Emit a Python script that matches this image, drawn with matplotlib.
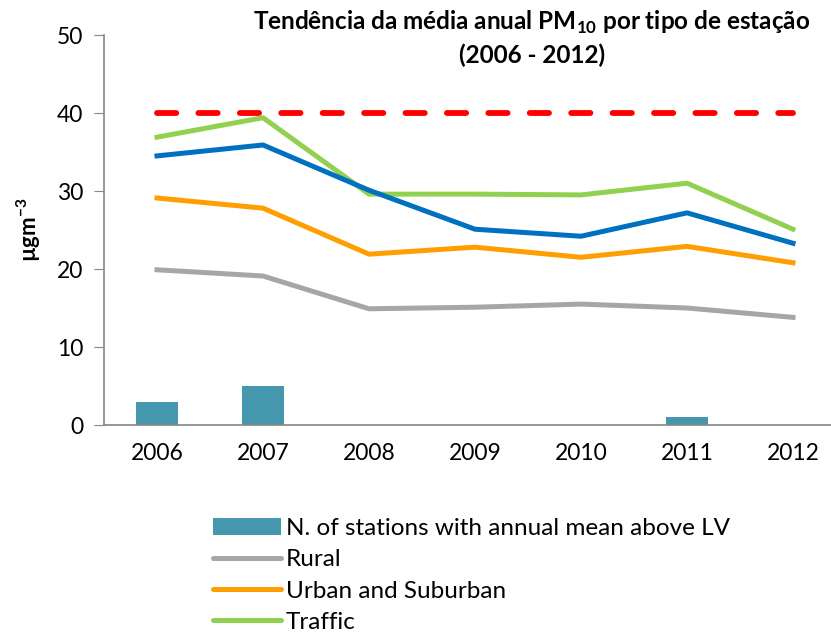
import matplotlib
matplotlib.use("Agg")
import matplotlib.pyplot as plt
from matplotlib.patches import Patch
from matplotlib.lines import Line2D
import numpy as np

plt.rcParams['font.family'] = ['Lato', 'DejaVu Sans']
plt.rcParams['mathtext.fontset'] = 'custom'
plt.rcParams['mathtext.bf'] = 'Lato:bold'
plt.rcParams['mathtext.rm'] = 'Lato'

years = ["2006", "2007", "2008", "2009", "2010", "2011", "2012"]
stations_above_lv = [3, 5, 0, 0, 0, 1, 0]
rural = [19.9, 19.1, 14.9, 15.1, 15.5, 15.0, 13.8]
urban_suburban = [29.1, 27.8, 21.9, 22.8, 21.5, 22.9, 20.8]
all_stations = [34.5, 35.9, 30.1, 25.1, 24.2, 27.2, 23.3]
traffic = [36.9, 39.4, 29.6, 29.6, 29.5, 31.0, 25.1]
limit_value = [40] * 7

fig = plt.figure(figsize=(8.31, 6.37), dpi=100, facecolor="white")
ax = fig.add_axes([104/831, 212/637, 742/831, 390/637])
ax.set_facecolor("none")
x = np.arange(len(years))

ax.bar(x, stations_above_lv, width=0.4, color="#4597AE", zorder=2)
ax.plot(x, limit_value, color="#FF0000", lw=4.2, ls=(0, (3.3, 3.8)), dash_capstyle="round", zorder=3)
ax.plot(x, rural, color="#A6A6A6", lw=3.6, solid_joinstyle="round", zorder=3)
ax.plot(x, urban_suburban, color="#FF9E00", lw=3.6, solid_joinstyle="round", zorder=3)
ax.plot(x, traffic, color="#92D050", lw=3.6, solid_joinstyle="round", zorder=3)
ax.plot(x, all_stations, color="#0070C0", lw=3.6, solid_joinstyle="round", zorder=4)

ax.set_xlim(-0.5, 6.5)
ax.set_ylim(0, 50)
ax.set_yticks(range(0, 51, 10))
ax.set_xticks(x)
ax.set_xticklabels(years)
for s in ["top", "right"]:
    ax.spines[s].set_visible(False)
for s in ["left", "bottom"]:
    ax.spines[s].set_color("#868686")
    ax.spines[s].set_linewidth(1.2)
ax.tick_params(axis="y", length=7, color="#868686", labelsize=16.5, pad=8)
ax.tick_params(axis="x", length=0, labelsize=16.5, pad=13)

ax.set_ylabel("µgm$^{\\mathbf{-3}}$", fontsize=16, fontweight="bold", labelpad=10)

fig.text(532/831, 1 - 22/637, "Tendência da média anual PM$_{\\mathbf{10}}$ por tipo de estação",
         ha="center", va="center", fontsize=17.5, fontweight="bold")
fig.text(532/831, 1 - 55/637, "(2006 - 2012)", ha="center", va="center", fontsize=17.5, fontweight="bold")

handles = [Patch(facecolor="#4597AE", edgecolor="none"),
           Line2D([], [], color="#A6A6A6", lw=3.6, solid_capstyle="round"),
           Line2D([], [], color="#FF9E00", lw=3.6, solid_capstyle="round"),
           Line2D([], [], color="#92D050", lw=3.6, solid_capstyle="round")]
labels = ["N. of stations with annual mean above LV", "Rural", "Urban and Suburban", "Traffic"]
fig.legend(handles, labels, loc="upper left", bbox_to_anchor=(201/831, 1 - 506/637), frameon=False,
           fontsize=17.5, handlelength=2.8, handletextpad=0.2, labelspacing=0.42, borderpad=0)

fig.savefig("out.png", dpi=100, facecolor="white")
